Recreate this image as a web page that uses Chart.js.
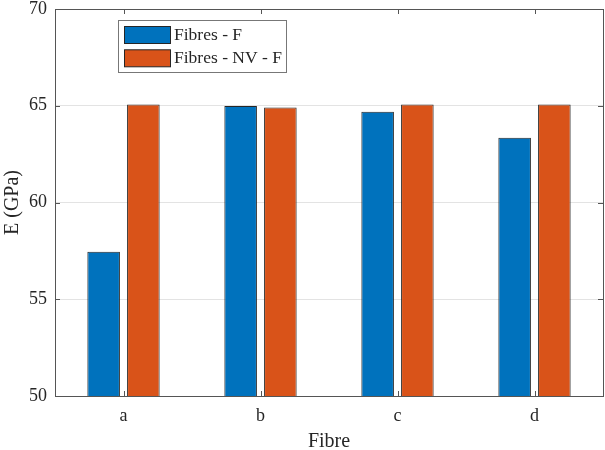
<!DOCTYPE html>
<html>
<head>
<meta charset="utf-8">
<script src="https://cdn.jsdelivr.net/npm/chart.js@4"></script>
<style>
  html, body { margin: 0; padding: 0; background: #fff; }
  #wrap { width: 605px; height: 450px; }
</style>
</head>
<body>
<div id="wrap"><canvas id="c" width="605" height="450"></canvas></div>
<script>
// Fibre types on the x axis
const categories = ['a', 'b', 'c', 'd'];
// Young's modulus E (GPa) per fibre type
const fibresF = [57.45, 64.99, 64.69, 63.35];
const fibresNVF = [65.07, 64.91, 65.07, 65.07];
const seriesNames = ['Fibres - F', 'Fibres - NV - F'];
const yTicks = [50, 55, 60, 65, 70];

const FONT = "'Liberation Serif', 'Times New Roman', serif";
const TEXT = '#262626';
const BLUE = '#0072BD';
const ORANGE = '#D95319';

// Axes box with inward tick marks on all four sides
const boxPlugin = {
  id: 'boxTicks',
  afterDatasetsDraw(chart) {
    const { ctx, chartArea: a, scales } = chart;
    const L = 5;
    ctx.save();
    ctx.strokeStyle = '#555';
    ctx.lineWidth = 1;
    ctx.beginPath();
    yTicks.forEach(v => {
      const y = Math.round(scales.y.getPixelForValue(v)) + 0.5;
      ctx.moveTo(a.left, y); ctx.lineTo(a.left + L, y);
      ctx.moveTo(a.right, y); ctx.lineTo(a.right - L, y);
    });
    categories.forEach((c, i) => {
      const x = Math.round(scales.x.getPixelForValue(i)) + 0.5;
      ctx.moveTo(x, a.bottom); ctx.lineTo(x, a.bottom - L);
      ctx.moveTo(x, a.top); ctx.lineTo(x, a.top + L);
    });
    ctx.stroke();
    ctx.strokeRect(Math.round(a.left) + 0.5, Math.round(a.top) + 0.5,
                   Math.round(a.right - a.left), Math.round(a.bottom - a.top));
    ctx.restore();
  }
};

// Boxed legend in the upper-left corner of the axes
const legendPlugin = {
  id: 'boxLegend',
  afterDraw(chart) {
    const { ctx } = chart;
    const x0 = 118.5, y0 = 20.5, w = 168, h = 52;
    ctx.save();
    ctx.fillStyle = '#fff';
    ctx.fillRect(x0, y0, w, h);
    ctx.strokeStyle = '#777';
    ctx.lineWidth = 1;
    ctx.strokeRect(x0, y0, w, h);
    ctx.font = '17.5px ' + FONT;
    ctx.textBaseline = 'middle';
    chart.data.datasets.forEach((ds, i) => {
      const sy = 26.5 + i * 23.3;
      ctx.fillStyle = ds.backgroundColor;
      ctx.fillRect(124.5, sy, 46, 17);
      ctx.strokeStyle = '#262626';
      ctx.strokeRect(124.5, sy, 46, 17);
      ctx.fillStyle = TEXT;
      ctx.fillText(ds.label, 174, sy + 9);
    });
    ctx.restore();
  }
};

new Chart(document.getElementById('c'), {
  type: 'bar',
  data: {
    labels: categories,
    datasets: [
      { label: seriesNames[0], data: fibresF, backgroundColor: BLUE,
        borderColor: '#262626', borderWidth: 1 },
      { label: seriesNames[1], data: fibresNVF, backgroundColor: ORANGE,
        borderColor: '#262626', borderWidth: 1 }
    ]
  },
  options: {
    responsive: false,
    animation: false,
    devicePixelRatio: 1,
    layout: { padding: { top: 9, right: 2, left: 0, bottom: 0 } },
    datasets: { bar: { categoryPercentage: 0.58, barPercentage: 0.82 } },
    plugins: { legend: { display: false }, tooltip: { enabled: false } },
    scales: {
      x: {
        offset: true,
        grid: { display: false, drawTicks: false },
        border: { display: false },
        ticks: { color: TEXT, font: { family: FONT, size: 18 }, padding: 9 },
        title: { display: true, text: 'Fibre', color: TEXT,
                 font: { family: FONT, size: 20 }, padding: { top: 2, bottom: -4 } },
        afterFit(s) { s.height = 54; s.paddingLeft = 0; s.paddingRight = 0; }
      },
      y: {
        min: 50, max: 70,
        afterBuildTicks(s) { s.ticks = yTicks.map(v => ({ value: v })); },
        grid: {
          drawTicks: false,
          color: ctx => (ctx.tick && (ctx.tick.value === 50 || ctx.tick.value === 70)) ? 'rgba(0,0,0,0)' : '#e3e3e3'
        },
        border: { display: false },
        ticks: { color: TEXT, font: { family: FONT, size: 18 }, padding: 8 },
        title: { display: true, text: 'E (GPa)', color: TEXT,
                 font: { family: FONT, size: 20 }, padding: { top: 1, bottom: 0 } },
        afterFit(s) { s.width = 55; s.paddingTop = 0; s.paddingBottom = 0; }
      }
    }
  },
  plugins: [boxPlugin, legendPlugin]
});
</script>
</body>
</html>
